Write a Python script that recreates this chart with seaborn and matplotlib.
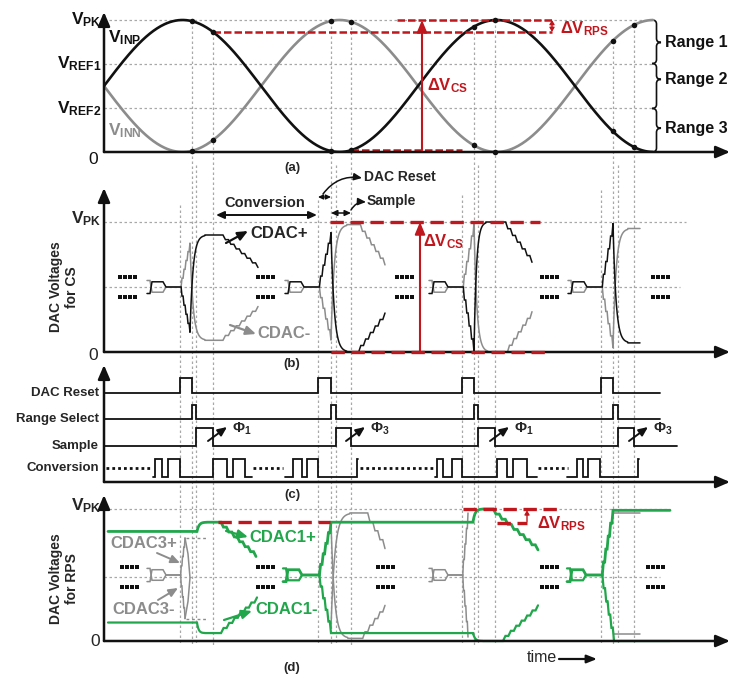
import numpy as np
import matplotlib.pyplot as plt
import seaborn as sns
from matplotlib.path import Path
from matplotlib.patches import PathPatch

# ------------------------
# Style
# ------------------------
sns.set_theme(style="white")
plt.rcParams["font.family"] = ["Liberation Sans", "DejaVu Sans"]
plt.rcParams["mathtext.fontset"] = "custom"
plt.rcParams["mathtext.rm"] = "Liberation Sans"
plt.rcParams["mathtext.it"] = "Liberation Sans:italic"
plt.rcParams["mathtext.bf"] = "Liberation Sans:bold"

BLACK = "#111111"
GRAY = "#8c8c8c"
GREEN = "#22a64b"
RED = "#c0161d"
GRID = "#a8a8a8"

W, H = 743, 677
X0, X1 = 104, 730

# ------------------------
# Timing (same time units in every panel)
# ------------------------
RESET_START = [180, 318, 462, 601]
RESET_END = [192, 331, 474, 613]
RANGE_END = [196, 336, 478, 618]
SAMPLE_END = [213, 351, 495, 634]
PHI = ["1", "3", "1", "3"]

# (a) differential input
SINE_START, SINE_END, SINE_PERIOD = 104, 653, 314
REF_LEVELS = [1.0, 0.67, 0.33]
REF_NAMES = ["PK", "REF1", "REF2"]
RANGE_SPANS = [(0.67, 1.0), (0.33, 0.67), (0.0, 0.33)]
RANGE_TIPS = [0.83, 0.55, 0.18]
RANGE_NAMES = ["Range 1", "Range 2", "Range 3"]

# (b) DAC voltages for coarse search (CS)
CS_POS = [
    [("bracket", 147, 1), ("stairs", 180, 190, 0.5, 0.15, 5), ("settle", 190, 205, 0.15, 0.90),
     ("flat", 205, 220, 0.90), ("stairs", 220, 258, 0.90, 0.65, 7)],
    [("bracket", 285, 1), ("stairs", 318, 331, 0.5, 0.92, 5), ("settle", 331, 347, 0.92, 0.0),
     ("flat", 347, 356, 0.0), ("stairs", 356, 385, 0.0, 0.30, 6)],
    [("bracket", 429, 1), ("stairs", 462, 474, 0.5, 0.0, 5), ("settle", 474, 486, 0.0, 1.0),
     ("flat", 486, 503, 1.0), ("stairs", 503, 532, 1.0, 0.69, 6)],
    [("bracket", 568, 1), ("stairs", 601, 613, 0.5, 0.99, 5), ("settle", 613, 628, 0.99, 0.07),
     ("flat", 628, 640, 0.07)],
]
CS_NEG = [
    [("bracket", 147, -1), ("stairs", 180, 190, 0.5, 0.84, 5), ("settle", 190, 205, 0.84, 0.09),
     ("flat", 205, 220, 0.09), ("stairs", 220, 258, 0.09, 0.35, 7)],
    [("bracket", 285, -1), ("stairs", 318, 331, 0.5, 0.09, 5), ("settle", 331, 347, 0.09, 0.98),
     ("flat", 347, 358, 0.98), ("stairs", 358, 385, 0.98, 0.67, 6)],
    [("bracket", 429, -1), ("stairs", 462, 474, 0.5, 0.99, 5), ("settle", 474, 488, 0.99, 0.0),
     ("flat", 488, 505, 0.0), ("stairs", 505, 532, 0.0, 0.31, 6)],
    [("bracket", 568, -1), ("stairs", 601, 613, 0.5, 0.03, 5), ("settle", 613, 628, 0.03, 0.95),
     ("flat", 628, 640, 0.95)],
]
CS_DOTS = [120, 258, 397, 542, 653]

# (c) control signals
CONV_GROUPS = [
    (153, [155, 162, 168, 180, 213, 227, 233, 245], 252),
    (285, [293, 302, 307, 318, 357], 358),
    (435, [437, 443, 452, 462, 497, 507, 513, 527], 537),
    (567, [577, 583, 588, 600, 638], 639),
]
CONV_DOTS = [(106, 152), (253, 283), (360, 435), (538, 568)]

# (d) DAC voltages for range pre-selection (RPS)
RPS1_POS = [
    [("flat", 108, 197, 0.83), ("settle", 197, 207, 0.83, 0.90), ("flat", 207, 218, 0.90),
     ("stairs", 218, 256, 0.90, 0.64, 7)],
    [("bracket", 283, 1), ("stairs", 318, 331, 0.5, 0.90, 5), ("flat", 331, 473, 0.90),
     ("settle", 473, 483, 0.90, 1.0), ("flat", 483, 490, 1.0), ("stairs", 490, 538, 1.0, 0.69, 8)],
    [("bracket", 567, 1), ("stairs", 601, 613, 0.5, 0.99, 5), ("flat", 613, 670, 0.99)],
]
RPS1_NEG = [
    [("flat", 108, 197, 0.14), ("settle", 197, 205, 0.14, 0.06), ("flat", 205, 218, 0.06),
     ("stairs", 218, 257, 0.06, 0.33, 7)],
    [("bracket", 283, -1), ("stairs", 318, 331, 0.5, 0.06, 5), ("flat", 331, 473, 0.06),
     ("settle", 473, 483, 0.06, 0.0), ("flat", 483, 500, 0.0), ("stairs", 500, 538, 0.0, 0.27, 7)],
    [("bracket", 567, -1), ("stairs", 601, 614, 0.5, 0.0, 5), ("flat", 614, 670, 0.0)],
]
RPS3_POS = [
    [("bracket", 147, 1), ("stairs", 180, 185, 0.5, 0.78, 4)],
    [("settle", 331, 350, 0.10, 0.97), ("flat", 350, 365, 0.97), ("stairs", 365, 385, 0.97, 0.70, 4)],
    [("bracket", 429, 1), ("stairs", 462, 468, 0.5, 0.97, 4)],
    [("flat", 614, 640, 0.97)],
]
RPS3_NEG = [
    [("bracket", 147, -1), ("stairs", 180, 185, 0.5, 0.17, 4)],
    [("settle", 331, 348, 0.90, 0.02), ("flat", 348, 360, 0.02), ("stairs", 360, 385, 0.02, 0.27, 5)],
    [("bracket", 429, -1), ("stairs", 462, 468, 0.5, 0.03, 4)],
    [("flat", 614, 640, 0.05)],
]
# right edge of the CDAC3 lens in the first cycle
RPS3_LENS_T = [185, 188, 190, 188, 185]
RPS3_LENS_V = [0.78, 0.66, 0.48, 0.30, 0.17]
RPS3_HOLD = [0.78, 0.17]
RPS_DOTS = [122, 258, 378, 542, 648]

# shape of the SAR convergence "bracket" before each reset (offsets)
BR_DT = [0, 3, 5, 16, 19, 31]
BR_DV = [-0.05, -0.05, 0.04, 0.04, 0.0, 0.0]


# ------------------------
# Helpers
# ------------------------
def stairs(t0, t1, v0, v1, n):
    ts, vs = [t0], [v0]
    dt = (t1 - t0) / n
    for i in range(n):
        ts += [t0 + dt * i + dt * 0.55, t0 + dt * (i + 1)]
        vs += [v0 + (v1 - v0) * i / n, v0 + (v1 - v0) * (i + 1) / n]
    return ts, vs


def settle(t0, t1, v0, v1):
    t = np.linspace(t0, t1, 40)
    v = v1 + (v0 - v1) * np.exp(-(t - t0) / ((t1 - t0) / 5))
    v[-1] = v1
    return list(t), list(v)


def build(parts):
    ts, vs = [], []
    for kind, *a in parts:
        if kind == "flat":
            t, v = [a[0], a[1]], [a[2], a[2]]
        elif kind == "stairs":
            t, v = stairs(*a)
        elif kind == "settle":
            t, v = settle(*a)
        else:
            t = [a[0] + d for d in BR_DT]
            v = [0.5 + a[1] * d for d in BR_DV]
        ts += list(t)
        vs += list(v)
    return ts, vs


def draw_trace(ax, pieces, color, lw):
    for parts in pieces:
        t, v = build(parts)
        ax.plot(t, v, color=color, lw=lw, clip_on=False, solid_joinstyle="miter")


def add_panel(bottom, top, unit):
    ax = fig.add_axes([X0 / W, 1 - bottom / H, (X1 - X0) / W, (bottom - top) / H])
    ax.set_xlim(X0, X1)
    ax.set_ylim(0, (bottom - top) / unit)
    ax.patch.set_alpha(0)
    ax.set_xticks([])
    ax.set_yticks([])
    for s in ax.spines.values():
        s.set_visible(False)
    kw = dict(arrowstyle="-|>,head_length=0.7,head_width=0.3", color=BLACK, lw=1.8,
              shrinkA=0, shrinkB=0)
    ax.annotate("", xy=(1, 0), xytext=(0, 0), xycoords="axes fraction", arrowprops=kw,
                annotation_clip=False)
    ax.annotate("", xy=(0, 1), xytext=(0, 0), xycoords="axes fraction", arrowprops=kw,
                annotation_clip=False)
    return ax


def four_dots(ax, xs, levels):
    for x in xs:
        for lv in levels:
            ax.scatter([x + 5 * k for k in range(4)], [lv] * 4, s=7, color=BLACK, marker="s",
                       linewidths=0, clip_on=False)


def brace(ax, x, y0, y1, tip, w, d):
    xm = x + w / 2
    verts = [(x, y1), (xm, y1), (xm, y1 - d), (xm, tip + d), (xm, tip), (x + w, tip),
             (xm, tip), (xm, tip - d), (xm, y0 + d), (xm, y0), (x, y0)]
    codes = [Path.MOVETO, Path.CURVE3, Path.CURVE3, Path.LINETO, Path.CURVE3, Path.CURVE3,
             Path.CURVE3, Path.CURVE3, Path.LINETO, Path.CURVE3, Path.CURVE3]
    ax.add_patch(PathPatch(Path(verts, codes), fill=False, lw=1.2, color=BLACK, clip_on=False))


def arrow(x0, y0, x1, y1, color=BLACK, lw=1.4, hl=0.45, hw=0.2, rad=0.0):
    # arrow in pixel coordinates of the overlay, head at (x1, y1)
    ov.annotate("", xy=(x1, y1), xytext=(x0, y0),
                arrowprops=dict(arrowstyle=f"-|>,head_length={hl},head_width={hw}", color=color,
                                lw=lw, shrinkA=0, shrinkB=0,
                                connectionstyle=f"arc3,rad={rad}"))


def vsub(base, sub):
    return r"$\mathbf{" + base + r"}_{\mathbf{" + sub + r"}}$"


# ------------------------
# Figure
# ------------------------
fig = plt.figure(figsize=(W / 100, H / 100), dpi=100)
fig.patch.set_facecolor("white")
ov = fig.add_axes([0, 0, 1, 1], zorder=-1)
ov.set_xlim(0, W)
ov.set_ylim(H, 0)
ov.axis("off")

ax_a = add_panel(152, 12, 132)
ax_b = add_panel(352, 188, 130)
ax_c = add_panel(482, 365, 1)
ax_d = add_panel(641, 495, 132)


def to_px(ax, x, y):
    return ov.transData.inverted().transform(ax.transData.transform((x, y)))


def vinp(t):
    return 0.5 + 0.5 * np.sin(2 * np.pi * (np.asarray(t) - SINE_START) / SINE_PERIOD)


# ---- (a) ----
for lv in REF_LEVELS:
    ax_a.plot([X0, SINE_END], [lv, lv], color=GRID, lw=0.9, ls=(0, (2, 2)))
t = np.linspace(SINE_START, SINE_END, 600)
sns.lineplot(x=t, y=1 - vinp(t), ax=ax_a, color=GRAY, lw=1.9)
sns.lineplot(x=t, y=vinp(t), ax=ax_a, color=BLACK, lw=1.9)
dot_t = np.array(sorted(RESET_END + SAMPLE_END))
sns.scatterplot(x=np.r_[dot_t, dot_t], y=np.r_[vinp(dot_t), 1 - vinp(dot_t)], ax=ax_a,
                color=BLACK, s=16, linewidth=0, zorder=5, clip_on=False)
for (y0, y1), tip in zip(RANGE_SPANS, RANGE_TIPS):
    brace(ax_a, 652, y0, y1, tip, 9, 4 / 132)

v_hold = float(vinp(SAMPLE_END[0]))
v_low = float(vinp(SAMPLE_END[1]))
ax_a.plot([SAMPLE_END[0], 552], [v_hold, v_hold], color=RED, lw=1.8, ls=(0, (3, 1.2)))
ax_a.plot([397, 552], [1.0, 1.0], color=RED, lw=1.8, ls=(0, (3, 1.2)))
ax_a.plot([SAMPLE_END[1], 462], [v_low, v_low], color=RED, lw=1.8, ls=(0, (3, 1.2)))
ax_a.annotate("", xy=(422, 1.0), xytext=(422, v_low),
              arrowprops=dict(arrowstyle="-|>,head_length=0.6,head_width=0.25", color=RED, lw=1.5,
                              shrinkA=0, shrinkB=0))
ax_a.annotate("", xy=(552, 1.0), xytext=(552, v_hold),
              arrowprops=dict(arrowstyle="<|-|>,head_length=0.2,head_width=0.12", color=RED, lw=1.0,
                              shrinkA=0, shrinkB=0))

for lv, nm in zip(REF_LEVELS, REF_NAMES):
    px = to_px(ax_a, X0, lv)
    ov.text(101, px[1], vsub("V", nm), ha="right", va="center", fontsize=12.5, color=BLACK)
ov.text(93, 159, "0", ha="center", va="center", fontsize=12.5, color=BLACK)
ov.text(108, 38, vsub("V", "INP"), ha="left", va="center", fontsize=12.5, color=BLACK)
ov.text(108, 131, vsub("V", "INN"), ha="left", va="center", fontsize=12.5, color=GRAY)
for nm, tip in zip(RANGE_NAMES, RANGE_TIPS):
    ov.text(665, to_px(ax_a, 0, tip)[1], nm, ha="left", va="center", fontsize=11.5,
            fontweight="bold", color=BLACK)
ov.text(427, 86, vsub(r"\Delta V", "CS"), ha="left", va="center", fontsize=12, color=RED)
ov.text(560, 29, vsub(r"\Delta V", "RPS"), ha="left", va="center", fontsize=12, color=RED)
ov.text(292, 168, "(a)", ha="center", va="center", fontsize=9.5, fontweight="bold")

# ---- vertical timing guides ----
for i in range(4):
    top_r = to_px(ax_a, 0, max(vinp(RESET_END[i]), 1 - vinp(RESET_END[i])))[1]
    top_s = to_px(ax_a, 0, max(vinp(SAMPLE_END[i]), 1 - vinp(SAMPLE_END[i])))[1]
    kw = dict(color=GRID, lw=0.9, linestyles=(0, (2, 2)))
    ov.vlines(RESET_START[i], 205 - 5 * i, 645, **kw)
    ov.vlines(RESET_END[i], top_r, 645, **kw)
    ov.vlines(RANGE_END[i], 165, 645, **kw)
    ov.vlines(SAMPLE_END[i], top_s, 645, **kw)

# ---- (b) ----
ax_b.plot([X0, 686], [1, 1], color=GRID, lw=0.9, ls=(0, (2, 2)))
ax_b.plot([X0, 680], [0.5, 0.5], color=GRID, lw=0.9, ls=(0, (2, 2)))
draw_trace(ax_b, CS_NEG, GRAY, 1.1)
draw_trace(ax_b, CS_POS, BLACK, 1.1)
four_dots(ax_b, CS_DOTS, [0.577, 0.423])
ax_b.plot([330, 540], [1, 1], color=RED, lw=2.4, ls=(0, (4, 2)))
ax_b.plot([331, 545], [0, 0], color=RED, lw=2.4, ls=(0, (4, 2)), clip_on=False, zorder=4)
ax_b.annotate("", xy=(420, 1.0), xytext=(420, 0.0),
              arrowprops=dict(arrowstyle="-|>,head_length=0.6,head_width=0.25", color=RED, lw=1.5,
                              shrinkA=0, shrinkB=0))

ov.text(101, 219, vsub("V", "PK"), ha="right", va="center", fontsize=12.5)
ov.text(93, 356, "0", ha="center", va="center", fontsize=12.5)
ov.text(64, 287, "DAC Voltages\nfor CS", rotation=90, ha="center", va="center", fontsize=10,
        fontweight="bold", linespacing=1.1, multialignment="center")
ov.text(292, 364, "(b)", ha="center", va="center", fontsize=9.5, fontweight="bold")
ov.text(265, 203, "Conversion", ha="center", va="center", fontsize=10.5, fontweight="bold")
ov.annotate("", xy=(216, 215), xytext=(317, 215),
            arrowprops=dict(arrowstyle="<|-|>,head_length=0.4,head_width=0.18", color=BLACK, lw=1.4,
                            shrinkA=0, shrinkB=0))
ov.annotate("", xy=(RESET_START[1], 197), xytext=(RESET_END[1], 197),
            arrowprops=dict(arrowstyle="<|-|>,head_length=0.25,head_width=0.12", color=BLACK, lw=0.9,
                            shrinkA=0, shrinkB=0))
ov.annotate("", xy=(RESET_END[1], 213), xytext=(SAMPLE_END[1], 213),
            arrowprops=dict(arrowstyle="<|-|>,head_length=0.3,head_width=0.14", color=BLACK, lw=1.1,
                            shrinkA=0, shrinkB=0))
ov.text(364, 177, "DAC Reset", ha="left", va="center", fontsize=10, fontweight="bold")
arrow(323, 194, 362, 178, lw=1.1, hl=0.4, hw=0.18, rad=-0.3)
ov.text(367, 201, "Sample", ha="left", va="center", fontsize=10, fontweight="bold")
arrow(351, 210, 366, 202, lw=1.1, hl=0.4, hw=0.18, rad=-0.3)
ov.text(250, 234, "CDAC+", ha="left", va="center", fontsize=12, fontweight="bold")
arrow(226, 243, 248, 231, lw=1.6, hl=0.5, hw=0.22)
ov.text(257, 334, "CDAC-", ha="left", va="center", fontsize=12, fontweight="bold", color=GRAY)
arrow(230, 325, 256, 334, color=GRAY, lw=1.6, hl=0.5, hw=0.22)
ov.text(423, 242, vsub(r"\Delta V", "CS"), ha="left", va="center", fontsize=12, color=RED)

# ---- (c) ----
rows = {"DAC Reset": (89, 15, list(zip(RESET_START, RESET_END)), 660),
        "Range Select": (63, 14, list(zip(RESET_END, RANGE_END)), 660),
        "Sample": (36, 18, list(zip(RANGE_END, SAMPLE_END)), 677)}
for name, (base, hgt, pulses, tend) in rows.items():
    xs, ys = [X0], [base]
    for s, e in pulses:
        xs += [s, s, e, e]
        ys += [base, base + hgt, base + hgt, base]
    xs.append(tend)
    ys.append(base)
    ax_c.plot(xs, ys, color=BLACK, lw=1.3, solid_joinstyle="miter")
    ov.text(99, 482 - base, name, ha="right", va="center", fontsize=9.5, fontweight="bold")

lo, hi, mid = 5, 23, 14
for t0, toggles, tend in CONV_GROUPS:
    xs, ys, lv = [t0], [lo], lo
    for tg in toggles:
        nl = hi if lv == lo else lo
        xs += [tg, tg]
        ys += [lv, nl]
        lv = nl
    xs.append(tend)
    ys.append(lv)
    ax_c.plot(xs, ys, color=BLACK, lw=1.3, solid_joinstyle="miter")
for a, b in CONV_DOTS:
    ax_c.plot([a, b], [mid, mid], color=BLACK, lw=2.0, ls=(0, (1, 1.1)), dash_capstyle="butt")
ov.text(99, 468, "Conversion", ha="right", va="center", fontsize=9.5, fontweight="bold")

for se, ph in zip(SAMPLE_END, PHI):
    arrow(se - 5, 441, se + 14, 427, lw=1.4)
    ov.text(se + 19, 429, vsub(r"\Phi", ph), ha="left", va="center", fontsize=10.5)
ov.text(292, 495, "(c)", ha="center", va="center", fontsize=9.5, fontweight="bold")

# ---- (d) ----
ax_d.plot([X0, 670], [1, 1], color=GRID, lw=0.9, ls=(0, (2, 2)))
ax_d.plot([X0, 660], [0.485, 0.485], color=GRID, lw=0.9, ls=(0, (2, 2)))
draw_trace(ax_d, RPS3_POS, GRAY, 1.1)
draw_trace(ax_d, RPS3_NEG, GRAY, 1.1)
ax_d.plot(RPS3_LENS_T, RPS3_LENS_V, color=GRAY, lw=1.1)
for lv in RPS3_HOLD:
    ax_d.plot([186, 208], [lv, lv], color=GRAY, lw=1.0, ls=(0, (2, 2)))
draw_trace(ax_d, RPS1_POS, GREEN, 2.0)
draw_trace(ax_d, RPS1_NEG, GREEN, 1.6)
four_dots(ax_d, RPS_DOTS, [0.56, 0.41])
ax_d.plot([218, 330], [0.9, 0.9], color=RED, lw=2.4, ls=(0, (4, 2)))
ax_d.plot([463, 562], [1.0, 1.0], color=RED, lw=2.4, ls=(0, (4, 2)))
ax_d.plot([497, 527], [0.895, 0.895], color=RED, lw=2.4, ls=(0, (4, 2)))
ax_d.annotate("", xy=(527, 0.99), xytext=(527, 0.905),
              arrowprops=dict(arrowstyle="-|>,head_length=0.2,head_width=0.12", color=RED, lw=1.0,
                              shrinkA=0, shrinkB=0))

ov.text(101, 506, vsub("V", "PK"), ha="right", va="center", fontsize=12.5)
ov.text(95, 641, "0", ha="center", va="center", fontsize=12.5)
ov.text(64, 579, "DAC Voltages\nfor RPS", rotation=90, ha="center", va="center", fontsize=10,
        fontweight="bold", linespacing=1.1, multialignment="center")
ov.text(292, 668, "(d)", ha="center", va="center", fontsize=9.5, fontweight="bold")
ov.text(537, 524, vsub(r"\Delta V", "RPS"), ha="left", va="center", fontsize=12, color=RED)
ov.text(110, 544, "CDAC3+", ha="left", va="center", fontsize=12, fontweight="bold", color=GRAY)
arrow(157, 553, 180, 563, color=GRAY, lw=1.4)
ov.text(112, 610, "CDAC3-", ha="left", va="center", fontsize=12, fontweight="bold", color=GRAY)
arrow(158, 600, 178, 588, color=GRAY, lw=1.4)
ov.text(249, 537, "CDAC1+", ha="left", va="center", fontsize=12, fontweight="bold", color=GREEN)
arrow(226, 531, 248, 537, color=GREEN, lw=1.6, hl=0.5, hw=0.22)
ov.text(255, 609, "CDAC1-", ha="left", va="center", fontsize=12, fontweight="bold", color=GREEN)
arrow(224, 620, 252, 611, color=GREEN, lw=1.6, hl=0.5, hw=0.22)
ov.text(527, 658, "time", ha="left", va="center", fontsize=11.5)
arrow(559, 659, 597, 659, lw=1.6, hl=0.5, hw=0.2)

fig.savefig("out.png", dpi=100)
